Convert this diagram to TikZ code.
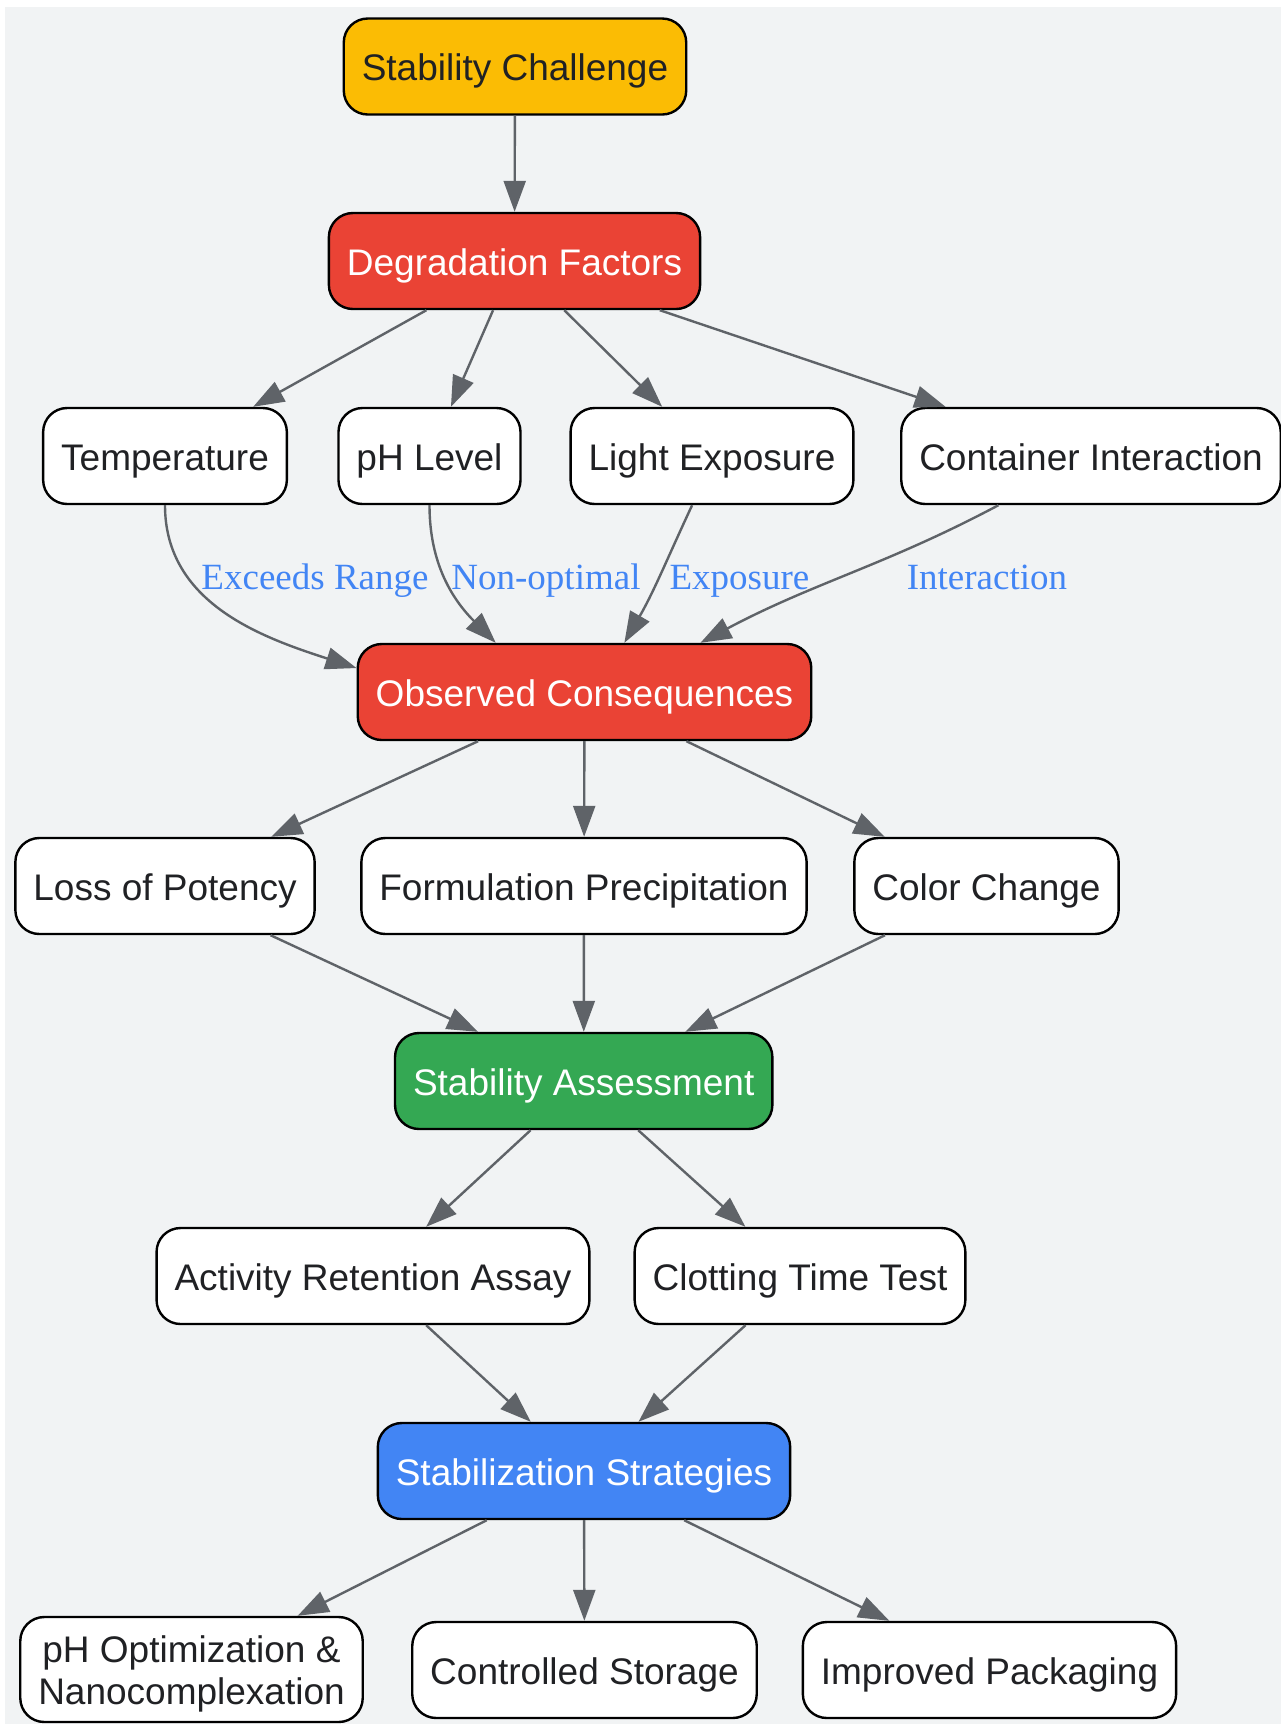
\documentclass[tikz,border=0pt]{standalone}
\usepackage{fontspec}
\setmainfont{Liberation Sans}
\newfontfamily\labelfont{Liberation Serif}
\usetikzlibrary{arrows.meta}

\definecolor{bgcol}{HTML}{F1F3F4}
\definecolor{yellowcol}{HTML}{FBBC04}
\definecolor{redcol}{HTML}{EA4335}
\definecolor{greencol}{HTML}{34A853}
\definecolor{bluecol}{HTML}{4285F4}
\definecolor{edgecol}{HTML}{5F6368}
\definecolor{inkcol}{HTML}{202124}

\begin{document}
\begin{tikzpicture}[x=0.5pt,y=0.5pt,
  box/.style={draw=black,line width=1.2pt,rounded corners=12pt,fill=white,
    text=inkcol,minimum height=48pt,inner xsep=9pt,align=center,
    text height=14pt,text depth=0pt,
    font=\fontsize{18.5}{21}\selectfont},
  twoline/.style={box,text height=35pt,text depth=0pt,minimum height=52.5pt},
  yellowbox/.style={box,fill=yellowcol},
  redbox/.style={box,fill=redcol,text=white},
  greenbox/.style={box,fill=greencol,text=white},
  bluebox/.style={box,fill=bluecol,text=white},
  edge/.style={draw=edgecol,line width=1.2pt,-{Triangle[length=15.5pt,width=11pt]}},
  elabel/.style={text=bluecol,font=\labelfont\fontsize{18.5}{21}\selectfont,
    inner sep=0pt,text height=12.6pt,text depth=4pt}]
\useasboundingbox (0,0) rectangle (1281,-1726);
\fill[bgcol] (5,-7) rectangle (1281,-1724);

% top
\node[yellowbox] (sc) at (515,-66.5) {Stability Challenge};
\node[redbox] (df) at (514.5,-261) {Degradation Factors};

% factors
\node[box] (temp) at (165,-456) {Temperature};
\node[box] (ph) at (429.5,-456) {pH Level};
\node[box] (light) at (712,-456) {Light Exposure};
\node[box] (cont) at (1091,-456) {Container Interaction};

\node[redbox] (oc) at (584.5,-692) {Observed Consequences};

% consequences
\node[box] (loss) at (165,-886) {Loss of Potency};
\node[box] (form) at (584,-886) {Formulation Precipitation};
\node[box] (color) at (986.5,-886) {Color Change};

\node[greenbox] (sa) at (583.7,-1081) {Stability Assessment};
\node[box] (act) at (373,-1276) {Activity Retention Assay};
\node[box] (clot) at (800,-1276) {Clotting Time Test};

\node[bluebox] (ss) at (584,-1471) {Stabilization Strategies};
\node[twoline] (phopt) at (191.5,-1669.5) {pH Optimization \&\\Nanocomplexation};
\node[box] (store) at (584.5,-1670) {Controlled Storage};
\node[box] (pack) at (989.5,-1670) {Improved Packaging};

% edge labels
\node[elabel] (lrange) at (315,-580.5) {Exceeds Range};
\node[elabel] (lnonopt) at (546,-580.5) {Non-optimal};
\node[elabel] (lexpo) at (739.5,-580.5) {Exposure};
\node[elabel] (linter) at (987,-580.5) {Interaction};

\draw[edge] (sc) -- (df);
\draw[edge] (df) -- (temp);
\draw[edge] (df) -- (ph);
\draw[edge] (df) -- (light);
\draw[edge] (df) -- (cont);

\draw[edge] (temp.south) to[out=-90,in=162] (oc.174);
\draw[edge] (ph.south) to[out=-90,in=135] (oc.151);
\draw[edge] (light.248) to[out=-115,in=60] (oc.51);
\draw[edge] (cont.208.5) to[out=208,in=28] (oc.23);

\draw[edge] (oc) -- (loss);
\draw[edge] (oc) -- (form);
\draw[edge] (oc) -- (color);
\draw[edge] (loss) -- (sa);
\draw[edge] (form) -- (sa);
\draw[edge] (color) -- (sa);

\draw[edge] (sa) -- (act);
\draw[edge] (sa) -- (clot);
\draw[edge] (act) -- (ss);
\draw[edge] (clot) -- (ss);

\draw[edge] (ss) -- (phopt);
\draw[edge] (ss) -- (store);
\draw[edge] (ss) -- (pack);
\end{tikzpicture}
\end{document}
